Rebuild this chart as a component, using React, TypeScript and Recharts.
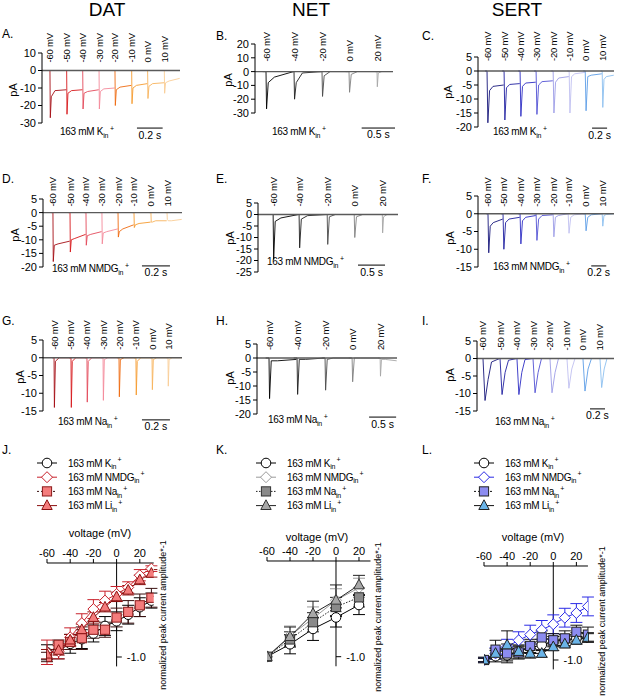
import React from 'react';
import { LineChart, Line, XAxis, YAxis, ReferenceLine, ErrorBar } from 'recharts';

const FONT = '"Liberation Sans", Arial, Helvetica, sans-serif';

// ---------- voltages & colours ----------
const datVolts = [-60, -50, -40, -30, -20, -10, 0, 10];
const netVolts = [-60, -40, -20, 0, 20];
const sertVolts = [-60, -50, -40, -30, -20, -10, 0, 10];

const datColors = ['#a50f15', '#d7191c', '#e34a5a', '#f4899a', '#ee6a10', '#f59b2f', '#f7b35c', '#f9cd95'];
const netColors = ['#000000', '#1e1e1e', '#4a4a4a', '#808080', '#a6a6a6'];
const sertColors = ['#16167a', '#1f1fa0', '#2d2dc4', '#5050d4', '#9c9ce6', '#c0c0f0', '#5c9de6', '#8cc0ef'];

// ---------- trace values (pA) per voltage step ----------
// A: DAT, 163 mM K+
const aSteps = [0.062, 0.192, 0.317, 0.444, 0.568, 0.698, 0.822, 0.952];
const aPeak = [-27, -25, -22, -22, -20, -19, -16, -13];
const aMid = [-15, -13, -13, -12, -11, -10, -9, -7];
const aPlat = [-11.5, -11.5, -12, -10.5, -9.5, -8.5, -7.5, -6];
const aEnd = [-11, -11, -11, -10, -8.5, -7.5, -7, -4.5];
// B: NET, K+
const bSteps = [0.165, 0.585, 1.005, 1.41, 1.83];
const bPeak = [-27, -20, -18, -15, -11];
const bMid = [-8, -8, -3, -2, -1];
const bPlat = [-4, -1, 0, 0, 0];
const bEnd = [0, 0, 0, 0, 0];
// C: SERT, K+
const cSteps = [0.12, 0.347, 0.56, 0.773, 1.0, 1.213, 1.427, 1.653];
const cPeak = [-18.5, -17.5, -16.2, -15.5, -15, -15, -14.2, -13];
const cMid = [-7, -6, -5.5, -5, -4, -2, -2, -3];
const cPlat = [-5.5, -4.8, -4.3, -3.8, -2.5, -1, -1.5, -2];
const cEnd = [-5, -4.5, -4, -3.5, -2, -0.5, -1, -1.5];
// D: DAT, NMDG+
const dSteps = [0.071, 0.193, 0.307, 0.421, 0.536, 0.65, 0.771, 0.886];
const dPeak = [-18, -14.5, -12, -11.5, -9, -5.5, -3.5, -2.5];
const dMid = [-12, -10, -8.5, -7.5, -7, -4.5, -3.5, -3];
const dPlat = [-11.5, -9.5, -8, -7, -6, -4, -3, -3];
const dEnd = [-10.5, -8, -7, -6, -4.5, -3.5, -3, -2.5];
// E: NET, NMDG+
const eSteps = [0.28, 0.76, 1.28, 1.78, 2.3];
const ePeak = [-19.5, -14.5, -13, -10, -8];
const eMid = [-3, -2, -1, -1, -1];
const ePlat = [-1.5, -0.5, 0, 0, 0];
const eEnd = [0, 0, 0, 0, 0];
// F: SERT, NMDG+
const fSteps = [0.133, 0.333, 0.56, 0.773, 1.0, 1.2, 1.427, 1.653];
const fPeak = [-11, -10, -8.5, -7.5, -6.5, -5.5, -4.8, -3.5];
const fMid = [-3.5, -2.5, -2, -1.5, -1, -1, -1, -0.5];
const fPlat = [-2.5, -1.5, -1, -0.5, -0.5, -0.3, -0.3, -0.2];
const fEnd = [-1.5, -1, -0.5, -0.3, 0, 0, 0, 0];
// G: DAT, Na+
const gSteps = [0.079, 0.2, 0.314, 0.429, 0.543, 0.664, 0.779, 0.893];
const gPeak = [-14, -14, -12.5, -12, -11, -10.5, -9, -8];
const gMid = [-1, -1, -1, -0.5, -0.5, -1, -0.5, -0.5];
const gPlat = [0, 0, 0, 0, 0, 0, 0, 0];
const gEnd = [0, 0, 0, 0, 0, 0, 0, 0];
// H: NET, Na+
const hSteps = [0.222, 0.741, 1.259, 1.759, 2.278];
const hPeak = [-14.5, -13, -11.5, -8.5, -6.5];
const hMid = [-1, -0.5, -0.5, 0, -0.5];
const hPlat = [-1, -0.5, 0, 0, -0.5];
const hEnd = [-0.5, 0, 0, 0, -1];
// I: SERT, Na+
const iSteps = [0.08, 0.307, 0.533, 0.747, 0.973, 1.2, 1.413, 1.64];
const iPeak = [-12, -10.3, -10.3, -9.8, -9.8, -8.5, -9.3, -8.3];
const iMid = [-6, -4, -4, -4, -4, -3, -3, -3];
const iPlat = [-1, -0.5, -0.3, 0, 0, 0, 0, 0];
const iEnd = [0, 0, 0, 0, 0, 0, 0, 0];

// ---------- I-V values (normalized peak current * -1) ----------
const ivVoltsFull = [-60, -50, -40, -30, -20, -10, 0, 10, 20, 30];
const ivVoltsNet = [-60, -40, -20, 0, 20];

const jK = [-0.95, -0.93, -0.86, -0.81, -0.75, -0.67, -0.62, -0.55, -0.47, -0.4];
const jKErr = [0.08, 0.09, 0.1, 0.1, 0.09, 0.1, 0.1, 0.1, 0.1, 0.08];
const jNmdg = [-0.95, -0.94, -0.79, -0.64, -0.49, -0.4, -0.33, -0.26, -0.13, -0.06];
const jNmdgErr = [0.13, 0.08, 0.1, 0.1, 0.1, 0.1, 0.08, 0.06, 0.06, 0.03];
const jNa = [-1.0, -0.87, -0.84, -0.8, -0.71, -0.71, -0.58, -0.52, -0.45, -0.37];
const jNaErr = [0.05, 0.05, 0.08, 0.12, 0.09, 0.08, 0.1, 0.12, 0.12, 0.1];
const jLi = [-0.97, -0.93, -0.82, -0.71, -0.58, -0.47, -0.36, -0.29, -0.18, -0.11];
const jLiErr = [0.05, 0.05, 0.06, 0.06, 0.06, 0.05, 0.05, 0.05, 0.05, 0.04];

const kK = [-1.0, -0.87, -0.71, -0.59, -0.46];
const kKErr = [0, 0.1, 0.12, 0.1, 0.1];
const kNmdg = [-1.0, -0.78, -0.6, -0.41, -0.28];
const kNmdgErr = [0, 0.1, 0.12, 0.12, 0.1];
const kNa = [-1.0, -0.82, -0.64, -0.48, -0.38];
const kNaErr = [0, 0.08, 0.1, 0.1, 0.1];
const kLi = [-1.0, -0.79, -0.55, -0.41, -0.25];
const kLiErr = [0, 0.1, 0.13, 0.16, 0.1];

const lK = [-1.0, -0.96, -0.95, -0.91, -0.87, -0.84, -0.8, -0.79, -0.77, -0.76];
const lKErr = [0.03, 0.06, 0.06, 0.07, 0.06, 0.06, 0.05, 0.06, 0.06, 0.05];
const lNmdg = [-1.0, -0.93, -0.86, -0.79, -0.73, -0.68, -0.62, -0.55, -0.5, -0.43];
const lNmdgErr = [0.02, 0.06, 0.08, 0.09, 0.1, 0.1, 0.1, 0.1, 0.1, 0.1];
const lNa = [-1.0, -0.89, -0.93, -0.92, -0.85, -0.76, -0.79, -0.77, -0.7, -0.73];
const lNaErr = [0.02, 0.1, 0.1, 0.07, 0.07, 0.07, 0.07, 0.08, 0.07, 0.08];
const lLi = [-1.0, -0.93, -0.84, -0.91, -0.93, -0.93, -0.86, -0.83, -0.79, -0.76];
const lLiErr = [0.02, 0.05, 0.15, 0.05, 0.05, 0.04, 0.04, 0.04, 0.04, 0.04];

// ---------- helpers ----------
type Shape = [number, number, number];
const SHAPE_FAST: Shape = [0.02, 0.08, 0.3];
const SHAPE_SERT: Shape = [0.05, 0.15, 0.35];
const SHAPE_SLOW: Shape = [0.12, 0.3, 0.5];

function buildSegments(steps: number[], tEnd: number, peak: number[], mid: number[], plat: number[], end: number[], shape: Shape) {
  return steps.map((ts, k) => {
    const next = k < steps.length - 1 ? steps[k + 1] : tEnd;
    const sp = next - ts;
    return [
      { t: ts - 0.12 * sp, i: 0 },
      { t: ts, i: 0 },
      { t: ts + shape[0] * sp, i: peak[k] },
      { t: ts + shape[1] * sp, i: mid[k] },
      { t: ts + shape[2] * sp, i: plat[k] },
      { t: next - 0.02 * sp, i: end[k] },
    ];
  });
}

function IonText({ ion }: { ion: string }) {
  return (
    <>
      163 mM {ion}
      <span style={{ fontSize: 7, position: 'relative', top: 3 }}>in</span>
      <span style={{ fontSize: 7, position: 'relative', top: -4, marginLeft: 2 }}>+</span>
    </>
  );
}

function Abs({ left, top, children, style }: any) {
  return <div style={{ position: 'absolute', left, top, fontFamily: FONT, whiteSpace: 'nowrap', ...style }}>{children}</div>;
}

function Rot({ cx, cy, size, children }: any) {
  return (
    <div style={{ position: 'absolute', left: cx, top: cy, fontFamily: FONT, fontSize: size, whiteSpace: 'nowrap', lineHeight: 1, transform: 'translate(-50%,-50%) rotate(-90deg)' }}>
      {children}
    </div>
  );
}

// ---------- trace panel ----------
const YW = 40;
const XH = 40;

function TracePanel({ p }: any) {
  const plotW = p.right - p.left;
  const plotH = p.bottom - p.top;
  const segs = buildSegments(p.steps, p.tEnd, p.peak, p.mid, p.plat, p.end, p.shape);
  const zeroY = XH + (p.yMax / (p.yMax - p.yMin)) * plotH;
  const tick = (props: any) => {
    const { x, payload } = props;
    const idx = p.steps.indexOf(payload.value);
    const by = zeroY - p.labOff;
    return (
      <text transform={`translate(${x + 3.5},${by}) rotate(-90)`} fontSize={9.5} fill="#000" fontFamily={FONT} textAnchor="start" letterSpacing={-0.2}>
        {p.volts[idx]} mV
      </text>
    );
  };
  return (
    <div style={{ position: 'absolute', left: p.left - YW, top: p.top - XH }}>
      <LineChart width={YW + plotW + 10} height={XH + plotH + 30} margin={{ top: 0, right: 10, bottom: 30, left: 0 }}>
        <XAxis xAxisId={0} type="number" dataKey="t" domain={[0, p.tEnd]} orientation="top" height={XH} ticks={p.steps} interval={0} axisLine={false} tickLine={false} tick={tick} allowDataOverflow />
        <YAxis yAxisId={0} type="number" domain={[p.yMin, p.yMax]} ticks={p.yTicks} interval={0} width={YW} tickSize={4} tickMargin={2} axisLine={{ stroke: '#000' }} tickLine={{ stroke: '#000' }} tick={{ fontSize: 11, fill: '#000', fontFamily: FONT }} allowDataOverflow />
        {segs.map((s, k) => (
          <Line key={k} data={s} dataKey="i" stroke={p.colors[k]} strokeWidth={0.9} dot={false} activeDot={false} isAnimationActive={false} />
        ))}
        <ReferenceLine y={0} stroke="#5a5a5a" strokeWidth={1.3} />
        <ReferenceLine
          segment={[{ x: p.barX, y: p.barY }, { x: p.barX + p.barLen, y: p.barY }]}
          stroke="#000"
          strokeWidth={1}
          ifOverflow="visible"
          label={{ value: p.barLabel, position: 'bottom', fontSize: 10.5, fill: '#000', offset: 3, fontFamily: FONT }}
        />
      </LineChart>
    </div>
  );
}

// ---------- markers ----------
function Marker({ kind, cx, cy, fill, stroke }: any) {
  if (kind === 'circle') return <circle cx={cx} cy={cy} r={4.8} fill={fill} stroke={stroke} strokeWidth={1} />;
  if (kind === 'diamond')
    return <polygon points={`${cx},${cy - 5.5} ${cx + 5.5},${cy} ${cx},${cy + 5.5} ${cx - 5.5},${cy}`} fill={fill} stroke={stroke} strokeWidth={1} />;
  if (kind === 'square') return <rect x={cx - 4.6} y={cy - 4.6} width={9.2} height={9.2} fill={fill} stroke={stroke} strokeWidth={1} />;
  return <polygon points={`${cx},${cy - 5.8} ${cx + 5.2},${cy + 3.9} ${cx - 5.2},${cy + 3.9}`} fill={fill} stroke={stroke} strokeWidth={1} />;
}

const ionNames = ['K', 'NMDG', 'Na', 'Li'];
const markerKinds = ['circle', 'diamond', 'square', 'triangle'];

function IVPanel({ q }: any) {
  const M = 12;
  const AXH = 22;
  const plotW = (q.xMax + 60) * q.pxPerMv;
  const plotH = 1.1 * q.pxPerUnit;
  const rows = q.volts.map((v: number, i: number) => ({
    v,
    s0: q.vals[0][i], e0: q.errs[0][i],
    s1: q.vals[1][i], e1: q.errs[1][i],
    s2: q.vals[2][i], e2: q.errs[2][i],
    s3: q.vals[3][i], e3: q.errs[3][i],
  }));
  return (
    <div style={{ position: 'absolute', left: q.left - M, top: q.top - AXH - M }}>
      <LineChart width={plotW + 2 * M} height={plotH + AXH + 2 * M} data={rows} margin={{ top: M, right: M, bottom: M, left: M }}>
        <XAxis type="number" dataKey="v" domain={[-60, q.xMax]} orientation="top" height={AXH} ticks={[-60, -40, -20, 0, 20]} interval={0} tickSize={4} tickMargin={2} axisLine={{ stroke: '#000' }} tickLine={{ stroke: '#000' }} tick={{ fontSize: 11, fill: '#000', fontFamily: FONT }} allowDataOverflow />
        <YAxis hide type="number" domain={[-1.1, 0]} allowDataOverflow />
        <ReferenceLine segment={[{ x: 0, y: 0 }, { x: 0, y: -1.1 }]} stroke="#000" strokeWidth={1} ifOverflow="visible" />
        <ReferenceLine
          segment={[{ x: 0, y: -1 }, { x: 4.5, y: -1 }]}
          stroke="#000"
          strokeWidth={1}
          ifOverflow="visible"
          label={{ value: '-1.0', position: 'right', fontSize: 11, fill: '#000', offset: 5, fontFamily: FONT }}
        />
        {[0, 1, 2, 3].map((s) => (
          <Line
            key={s}
            dataKey={`s${s}`}
            stroke={q.lineColors[s]}
            strokeWidth={1}
            strokeDasharray={q.dashes[s]}
            isAnimationActive={false}
            activeDot={false}
            dot={(props: any) => <Marker key={`m${s}-${props.index}`} kind={markerKinds[s]} cx={props.cx} cy={props.cy} fill={q.fills[s]} stroke={q.strokes[s]} />}
          >
            <ErrorBar dataKey={`e${s}`} width={6} stroke={q.errColors[s]} strokeWidth={1} direction="y" />
          </Line>
        ))}
      </LineChart>
    </div>
  );
}

function IVLegend({ x, y, q }: any) {
  return (
    <svg style={{ position: 'absolute', left: x - 12, top: y - 8 }} width={140} height={60}>
      {[0, 1, 2, 3].map((s) => {
        const cy = 8 + s * 14.2;
        return (
          <g key={s}>
            <line x1={2} x2={22} y1={cy} y2={cy} stroke={q.lineColors[s]} strokeWidth={1} strokeDasharray={q.dashes[s]} />
            <Marker kind={markerKinds[s]} cx={12} cy={cy} fill={q.fills[s]} stroke={q.strokes[s]} />
            <text x={33} y={cy + 3.6} fontSize={10} fontFamily={FONT} fill="#000" letterSpacing={-0.3}>
              163 mM {ionNames[s]}
              <tspan fontSize={7} dy={2.5}>in</tspan>
              <tspan fontSize={7} dy={-7} dx={1.5}>+</tspan>
            </text>
          </g>
        );
      })}
    </svg>
  );
}

// ---------- panel configurations ----------
const traces = [
  { left: 42, right: 180, top: 53, bottom: 123, yMin: -30, yMax: 10, yTicks: [-30, -20, -10, 0, 10], tEnd: 1.074, steps: aSteps, peak: aPeak, mid: aMid, plat: aPlat, end: aEnd, shape: SHAPE_FAST, volts: datVolts, colors: datColors, labOff: 8, barX: 0.739, barY: -32.9, barLen: 0.2, barLabel: '0.2 s' },
  { left: 255, right: 393, top: 44, bottom: 113, yMin: -30, yMax: 20, yTicks: [-30, -20, -10, 0, 10, 20], tEnd: 2.07, steps: bSteps, peak: bPeak, mid: bMid, plat: bPlat, end: bEnd, shape: SHAPE_FAST, volts: netVolts, colors: netColors, labOff: 10, barX: 1.6, barY: -40.9, barLen: 0.5, barLabel: '0.5 s' },
  { left: 478, right: 614, top: 57, bottom: 127, yMin: -20, yMax: 5, yTicks: [-20, -15, -10, -5, 0, 5], tEnd: 1.81, steps: cSteps, peak: cPeak, mid: cMid, plat: cPlat, end: cEnd, shape: SHAPE_SERT, volts: sertVolts, colors: sertColors, labOff: 10, barX: 1.518, barY: -20.4, barLen: 0.2, barLabel: '0.2 s' },
  { left: 43, right: 182, top: 199, bottom: 267, yMin: -20, yMax: 5, yTicks: [-20, -15, -10, -5, 0, 5], tEnd: 0.993, steps: dSteps, peak: dPeak, mid: dMid, plat: dPlat, end: dEnd, shape: SHAPE_FAST, volts: datVolts, colors: datColors, labOff: 6, barX: 0.707, barY: -19.6, barLen: 0.2, barLabel: '0.2 s' },
  { left: 258, right: 398, top: 203, bottom: 272, yMin: -25, yMax: 5, yTicks: [-25, -20, -15, -10, -5, 0, 5], tEnd: 2.59, steps: eSteps, peak: ePeak, mid: eMid, plat: ePlat, end: eEnd, shape: SHAPE_FAST, volts: netVolts, colors: netColors, labOff: 8, barX: 1.85, barY: -22, barLen: 0.5, barLabel: '0.5 s' },
  { left: 478, right: 614, top: 196, bottom: 267, yMin: -15, yMax: 5, yTicks: [-15, -10, -5, 0, 5], tEnd: 1.81, steps: fSteps, peak: fPeak, mid: fMid, plat: fPlat, end: fEnd, shape: SHAPE_SERT, volts: sertVolts, colors: sertColors, labOff: 7, barX: 1.507, barY: -14.7, barLen: 0.2, barLabel: '0.2 s' },
  { left: 43, right: 182, top: 340, bottom: 411, yMin: -15, yMax: 5, yTicks: [-15, -10, -5, 0, 5], tEnd: 0.993, steps: gSteps, peak: gPeak, mid: gMid, plat: gPlat, end: gEnd, shape: SHAPE_FAST, volts: datVolts, colors: datColors, labOff: 8, barX: 0.707, barY: -17.5, barLen: 0.2, barLabel: '0.2 s' },
  { left: 257, right: 397, top: 344, bottom: 414, yMin: -20, yMax: 5, yTicks: [-20, -15, -10, -5, 0, 5], tEnd: 2.59, steps: hSteps, peak: hPeak, mid: hMid, plat: hPlat, end: hEnd, shape: SHAPE_FAST, volts: netVolts, colors: netColors, labOff: 8, barX: 2.074, barY: -21.1, barLen: 0.5, barLabel: '0.5 s' },
  { left: 477, right: 614, top: 341, bottom: 411, yMin: -15, yMax: 5, yTicks: [-15, -10, -5, 0, 5], tEnd: 1.827, steps: iSteps, peak: iPeak, mid: iMid, plat: iPlat, end: iEnd, shape: SHAPE_SLOW, volts: sertVolts, colors: sertColors, labOff: 8, barX: 1.507, barY: -14.4, barLen: 0.2, barLabel: '0.2 s' },
];

const traceIons = ['K', 'K', 'K', 'NMDG', 'NMDG', 'NMDG', 'Na', 'Na', 'Na'];
const ionLabelPos = [[60, 132], [272, 132], [493, 132], [52, 269], [267, 262], [493, 267], [58, 422], [268, 420], [495, 422]];
const paPos = [[13, 90], [228, 80], [448, 92], [15, 235], [230, 238], [450, 238], [20, 377], [230, 378], [450, 375]];
const letters = ['A.', 'B.', 'C.', 'D.', 'E.', 'F.', 'G.', 'H.', 'I.', 'J.', 'K.', 'L.'];
const letterPos = [[2, 27], [216, 29], [422, 29], [2, 172], [216, 172], [422, 172], [2, 314], [216, 314], [422, 314], [2, 443], [216, 443], [422, 443]];

const ivPanels = [
  {
    left: 47.3, top: 563, pxPerMv: 1.16, pxPerUnit: 94, xMax: 32, volts: ivVoltsFull,
    vals: [jK, jNmdg, jNa, jLi], errs: [jKErr, jNmdgErr, jNaErr, jLiErr],
    lineColors: ['#000', '#c8202a', '#3a1010', '#8b1010'], dashes: [undefined, undefined, '2 2', undefined],
    fills: ['#fff', '#fff', '#f47c7c', '#f47c7c'], strokes: ['#000', '#c8202a', '#8b1a1a', '#8b1010'],
    errColors: ['#000', '#c8202a', '#3a1010', '#8b1010'],
    legend: [47, 463], voltLabel: [100, 533], yLabel: [163, 615],
  },
  {
    left: 266.7, top: 561, pxPerMv: 1.15, pxPerUnit: 95.7, xMax: 30, volts: ivVoltsNet,
    vals: [kK, kNmdg, kNa, kLi], errs: [kKErr, kNmdgErr, kNaErr, kLiErr],
    lineColors: ['#000', '#9a9a9a', '#222', '#222'], dashes: [undefined, undefined, '1.5 1.5', undefined],
    fills: ['#fff', '#fff', '#8a8a8a', '#a8a8a8'], strokes: ['#000', '#9a9a9a', '#333', '#333'],
    errColors: ['#000', '#9a9a9a', '#222', '#222'],
    legend: [266, 463], voltLabel: [317, 537], yLabel: [378, 617],
  },
  {
    left: 484, top: 566, pxPerMv: 1.155, pxPerUnit: 94, xMax: 30, volts: ivVoltsFull,
    vals: [lK, lNmdg, lNa, lLi], errs: [lKErr, lNmdgErr, lNaErr, lLiErr],
    lineColors: ['#000', '#2a2ae6', '#111', '#111'], dashes: [undefined, undefined, '2 2', undefined],
    fills: ['#fff', '#fff', '#8c8cf0', '#6ab4e8'], strokes: ['#000', '#2a2ae6', '#222', '#222'],
    errColors: ['#000', '#2a2ae6', '#111', '#111'],
    legend: [484, 463], voltLabel: [533, 537], yLabel: [602, 621],
  },
];

const titles = [['DAT', 107], ['NET', 311], ['SERT', 517]];

export default function App() {
  return (
    <div style={{ position: 'absolute', left: 0, top: 0, width: 617, height: 699, background: '#fff', overflow: 'hidden', fontFamily: FONT }}>
      {titles.map(([t, cx]) => (
        <div key={t as string} style={{ position: 'absolute', left: (cx as number) - 40, width: 80, top: -1, textAlign: 'center', fontSize: 19, fontFamily: FONT }}>
          {t}
        </div>
      ))}
      {letters.map((l, i) => (
        <Abs key={l} left={letterPos[i][0]} top={letterPos[i][1]} style={{ fontSize: 12 }}>
          {l}
        </Abs>
      ))}
      {traces.map((p, i) => (
        <TracePanel key={i} p={p} />
      ))}
      {traces.map((_, i) => (
        <Abs key={`ion${i}`} left={ionLabelPos[i][0]} top={ionLabelPos[i][1] - 7} style={{ fontSize: 10, lineHeight: '14px', letterSpacing: -0.3 }}>
          <IonText ion={traceIons[i]} />
        </Abs>
      ))}
      {paPos.map((pp, i) => (
        <Rot key={`pa${i}`} cx={pp[0]} cy={pp[1]} size={11}>
          pA
        </Rot>
      ))}
      {ivPanels.map((q, i) => (
        <React.Fragment key={`iv${i}`}>
          <IVPanel q={q} />
          <IVLegend x={q.legend[0]} y={q.legend[1]} q={q} />
          <Abs left={q.voltLabel[0] - 40} top={q.voltLabel[1] - 7} style={{ width: 80, textAlign: 'center', fontSize: 11, lineHeight: '14px' }}>
            voltage (mV)
          </Abs>
          <Rot cx={q.yLabel[0]} cy={q.yLabel[1]} size={9}>
            normalized peak current amplitude*-1
          </Rot>
        </React.Fragment>
      ))}
    </div>
  );
}
